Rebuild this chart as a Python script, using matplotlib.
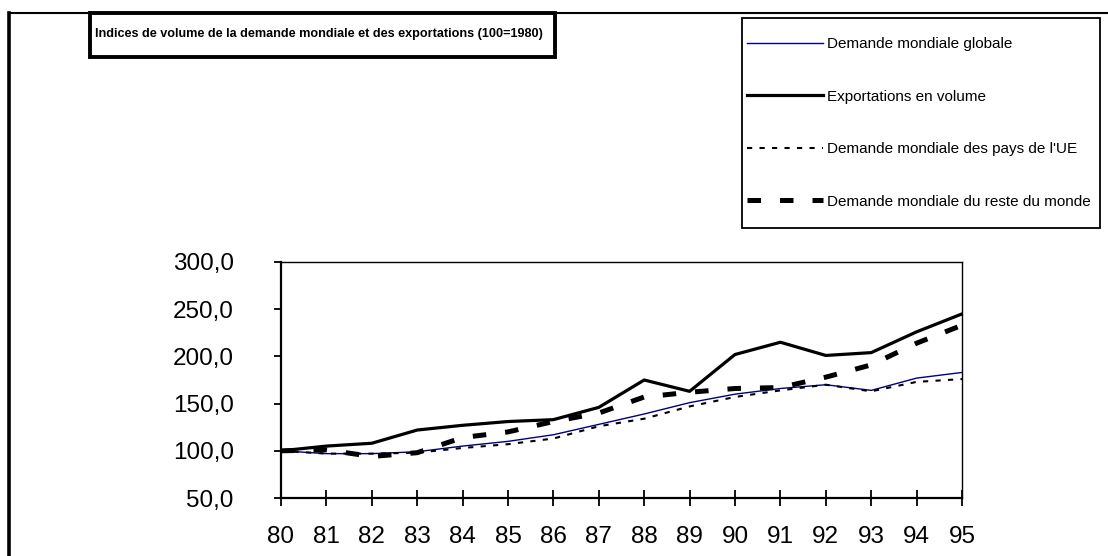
import matplotlib.pyplot as plt
from matplotlib.lines import Line2D
from matplotlib.patches import Rectangle

plt.rcParams['font.family'] = ['Liberation Sans', 'DejaVu Sans']

# Indices de volume (100 = 1980)
years = ['80', '81', '82', '83', '84', '85', '86', '87',
         '88', '89', '90', '91', '92', '93', '94', '95']
demande_globale = [100, 97, 97, 99, 105, 110, 117, 128,
                   139, 151, 160, 166, 170, 164, 177, 183]
exportations = [100, 105, 108, 122, 127, 131, 133, 146,
                175, 163, 202, 215, 201, 204, 226, 245]
demande_ue = [100, 97, 97, 98, 103, 107, 113, 126,
              134, 147, 157, 164, 170, 163, 173, 176]
demande_reste = [100, 101, 94, 98, 114, 120, 131, 140,
                 157, 162, 166, 167, 178, 191, 214, 233]

title = 'Indices de volume de la demande mondiale et des exportations (100=1980)'
labels = ['Demande mondiale globale', 'Exportations en volume',
          "Demande mondiale des pays de l'UE", 'Demande mondiale du reste du monde']

W, H = 1108, 556


def fx(px):
    return px / W


def fy(py):
    return 1 - py / H


fig = plt.figure(figsize=(W / 100, H / 100), dpi=100)
ax = fig.add_axes([fx(281), fy(498), fx(962) - fx(281), fy(262) - fy(498)])

x = list(range(len(years)))
h1, = ax.plot(x, demande_globale, color='#000080', lw=1.0)
h2, = ax.plot(x, exportations, color='black', lw=2.3)
h3, = ax.plot(x, demande_ue, color='black', lw=1.5, linestyle=(0, (2.5, 3.5)))
h4, = ax.plot(x, demande_reste, color='black', lw=3.6, linestyle=(0, (2.7, 3.8)))

ax.set_xlim(0, len(years) - 1)
ax.set_ylim(50, 300)
ax.set_xticks(x)
ax.set_xticklabels(years)
ax.set_yticks(range(50, 301, 50))
ax.set_yticklabels([f'{v},0' for v in range(50, 301, 50)])
ax.tick_params(axis='x', direction='inout', length=12, width=1.3, labelsize=17.5, pad=14)
ax.tick_params(axis='y', direction='out', length=5, width=1.3, labelsize=17.5, pad=29)
for side in ['left', 'bottom']:
    ax.spines[side].set_linewidth(1.6)
for side in ['top', 'right']:
    ax.spines[side].set_linewidth(1.0)

# cadre extérieur
fig.add_artist(Line2D([fx(9), fx(9)], [fy(13), 0], color='black', lw=2.6))
fig.add_artist(Line2D([fx(9), 1], [fy(13), fy(13)], color='black', lw=1.5))

# encadré du titre
fig.add_artist(Rectangle((fx(90), fy(57)), fx(555) - fx(90), fy(13) - fy(57),
                         transform=fig.transFigure, facecolor='white',
                         edgecolor='black', lw=2.8))
fig.text(fx(95), fy(34), title, fontsize=9.1, fontweight='bold', va='center', ha='left')

# encadré de la légende
fig.add_artist(Rectangle((fx(742), fy(228)), fx(1100) - fx(742), fy(18) - fy(228),
                         transform=fig.transFigure, facecolor='white',
                         edgecolor='black', lw=1.3))
leg = fig.legend([h1, h2, h3, h4], labels, loc='upper left',
                 bbox_to_anchor=(fx(747), fy(37)), borderaxespad=0,
                 fontsize=11, handlelength=5.0, handletextpad=0.25,
                 labelspacing=2.52, borderpad=0, frameon=False)

fig.savefig('out.png', dpi=100)
